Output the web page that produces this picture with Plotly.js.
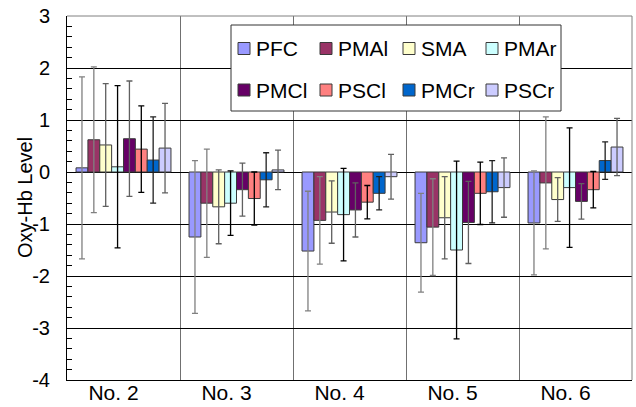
<!DOCTYPE html>
<html>
<head>
<meta charset="utf-8">
<script src="https://cdn.plot.ly/plotly-3.0.1.min.js"></script>
<style>html,body{margin:0;padding:0;background:#fff;}#chart{width:636px;height:407px;}</style>
</head>
<body>
<div id="chart"></div>
<script>
var categories = ['No. 2', 'No. 3', 'No. 4', 'No. 5', 'No. 6'];
var seriesNames = ['PFC', 'PMAl', 'SMA', 'PMAr', 'PMCl', 'PSCl', 'PMCr', 'PSCr'];
var seriesColors = ['#9999FF', '#993366', '#FFFFCC', '#CCFFFF', '#660066', '#FF8080', '#0066CC', '#CCCCFF'];
var errorColors = ['#808080', '#808080', '#606060', '#000000', '#606060', '#000000', '#202020', '#606060'];

var PFC  = [0.08, -1.25, -1.52, -1.36, -0.98];
var PMAl = [0.62, -0.60, -0.93, -1.06, -0.21];
var SMA  = [0.52, -0.67, -0.77, -0.88, -0.53];
var PMAr = [0.10, -0.60, -0.82, -1.50, -0.30];
var PMCl = [0.64, -0.34, -0.73, -0.97, -0.565];
var PSCl = [0.44, -0.51, -0.58, -0.41, -0.34];
var PMCr = [0.23, -0.15, -0.41, -0.38, 0.22];
var PSCr = [0.46, 0.04, -0.09, -0.30, 0.48];

var PFC_err  = [1.75, 1.47, 1.15, 0.95, 1.00];
var PMAl_err = [1.40, 1.04, 0.84, 0.93, 1.27];
var SMA_err  = [1.18, 0.71, 0.60, 0.79, 0.42];
var PMAr_err = [1.56, 0.62, 0.89, 1.71, 1.15];
var PMCl_err = [1.11, 0.51, 0.52, 0.79, 0.34];
var PSCl_err = [0.83, 0.51, 0.32, 0.60, 0.35];
var PMCr_err = [0.83, 0.52, 0.32, 0.60, 0.36];
var PSCr_err = [0.86, 0.38, 0.43, 0.57, 0.55];

var yTickVals = [-4, -3, -2, -1, 0, 1, 2, 3];
var yTickText = ['-4', '-3', '-2', '-1', '0', '1', '2', '3'];
var yTitle = 'Oxy-Hb Level';

var seriesValues = [PFC, PMAl, SMA, PMAr, PMCl, PSCl, PMCr, PSCr];
var seriesErrors = [PFC_err, PMAl_err, SMA_err, PMAr_err, PMCl_err, PSCl_err, PMCr_err, PSCr_err];

var FONT = '"Liberation Sans", Arial, sans-serif';

var traces = seriesNames.map(function (name, i) {
  return {
    type: 'bar',
    name: name,
    x: categories,
    y: seriesValues[i],
    marker: { color: seriesColors[i], line: { color: '#3a3a3a', width: 1 } },
    error_y: { type: 'data', array: seriesErrors[i], visible: true,
               color: errorColors[i], thickness: 1.3, width: 3 },
    showlegend: false
  };
});

// plot-area geometry (pixels) used to place the hand-built legend and titles
var ML = 67, MR = 4, MT = 16, MB = 27, W = 636, H = 407;
var PW = W - ML - MR, PH = H - MT - MB;
function px(xp) { return (xp - ML) / PW; }
function py(yp) { return (H - MB - yp) / PH; }

var shapes = [];
var annotations = [];
// legend box
shapes.push({ type: 'rect', xref: 'paper', yref: 'paper', layer: 'above',
  x0: px(231), x1: px(561), y0: py(111), y1: py(25),
  fillcolor: '#ffffff', line: { color: '#333333', width: 1 } });
var colLeft = [238, 320, 403, 486];
var rowMid = [48.5, 90];
seriesNames.forEach(function (name, i) {
  var c = i % 4, r = Math.floor(i / 4);
  shapes.push({ type: 'rect', xref: 'paper', yref: 'paper', layer: 'above',
    x0: px(colLeft[c]), x1: px(colLeft[c] + 12),
    y0: py(rowMid[r] + 6), y1: py(rowMid[r] - 6),
    fillcolor: seriesColors[i], line: { color: '#3a3a3a', width: 1 } });
  annotations.push({ xref: 'paper', yref: 'paper', showarrow: false,
    x: px(colLeft[c] + 16), y: py(rowMid[r]), xanchor: 'left', yanchor: 'middle',
    text: name, font: { family: FONT, size: 21, color: '#000' } });
});
// y-axis title
annotations.push({ xref: 'paper', yref: 'paper', showarrow: false,
  x: px(25), y: 0.5, xanchor: 'center', yanchor: 'middle', textangle: -90,
  text: yTitle, font: { family: FONT, size: 20, color: '#000' } });
// top and right frame lines (grey)
shapes.push({ type: 'line', xref: 'paper', yref: 'paper', layer: 'above',
  x0: 0, x1: 1, y0: 1, y1: 1, line: { color: '#808080', width: 1 } });
shapes.push({ type: 'line', xref: 'paper', yref: 'paper', layer: 'above',
  x0: 1, x1: 1, y0: 0, y1: 1, line: { color: '#808080', width: 1 } });

var layout = {
  width: W, height: H,
  margin: { l: ML, r: MR, t: MT, b: MB, pad: 0 },
  paper_bgcolor: '#ffffff', plot_bgcolor: '#ffffff',
  font: { family: FONT, color: '#000' },
  barmode: 'group', bargap: 0.16, bargroupgap: 0,
  showlegend: false,
  xaxis: {
    type: 'category', tickson: 'boundaries', ticks: '',
    showgrid: true, gridcolor: '#707070', gridwidth: 1,
    showline: true, linecolor: '#000', linewidth: 1,
    tickfont: { family: FONT, size: 21, color: '#000' },
    ticklabelshift: -10, ticklabelstandoff: -6,
    automargin: false, fixedrange: true
  },
  yaxis: {
    range: [-4, 3], tickvals: yTickVals, ticktext: yTickText,
    ticks: 'inside', ticklen: 5, tickcolor: '#000', tickwidth: 1,
    minor: { dtick: 0.2, ticks: 'inside', ticklen: 5, tickcolor: '#000', tickwidth: 1, showgrid: false },
    showgrid: true, gridcolor: '#000', gridwidth: 1, zeroline: false,
    showline: true, linecolor: '#000', linewidth: 1,
    tickfont: { family: FONT, size: 20, color: '#000' },
    ticklabelstandoff: 12,
    automargin: false, fixedrange: true
  },
  shapes: shapes,
  annotations: annotations
};

Plotly.newPlot('chart', traces, layout, { displayModeBar: false, staticPlot: true });
</script>
</body>
</html>
